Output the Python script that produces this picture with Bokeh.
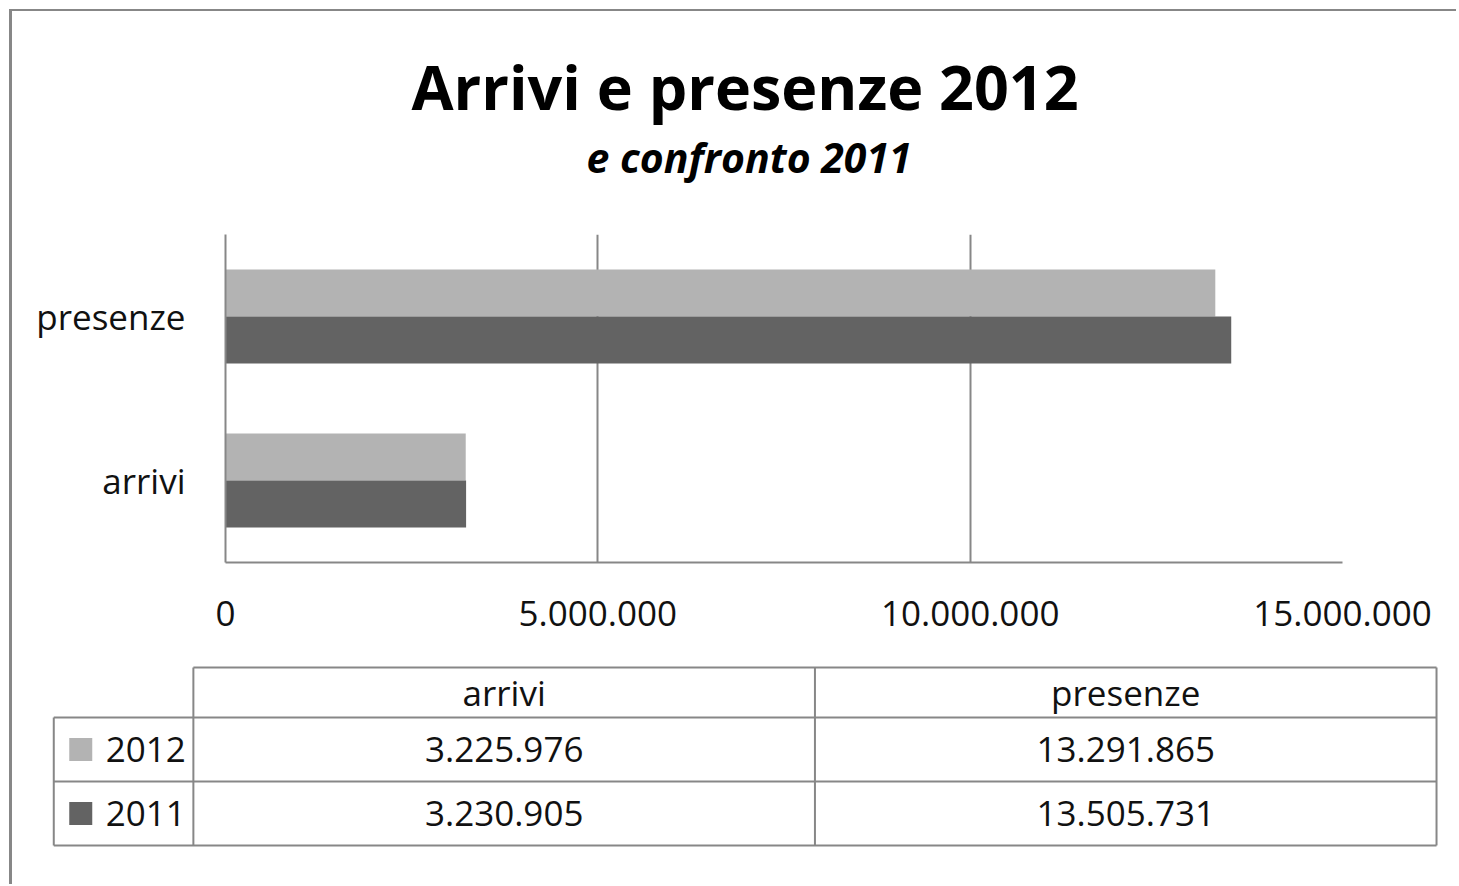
from bokeh.plotting import figure
from bokeh.models import (FactorRange, Range1d, FixedTicker, CustomJSTickFormatter,
                          Title, ColumnDataSource)
from bokeh.transform import dodge
from bokeh.core.properties import value
from bokeh.embed import file_html
from bokeh.resources import INLINE

# ---------------- data ----------------
categories = ["arrivi", "presenze"]
years = ["2012", "2011"]
values_2012 = [3225976, 13291865]
values_2011 = [3230905, 13505731]
x_ticks = [0, 5000000, 10000000, 15000000]
title_text = "Arrivi e presenze 2012"
subtitle_text = "e confronto 2011"

# ---------------- style ----------------
FONT = "Open Sans"
C2012 = "#B3B3B3"
C2011 = "#636363"
LINE = "#878787"
TXT = "#111111"


def fmt(v):
    return f"{v:,}".replace(",", ".")


# ---------------- chart ----------------
src = ColumnDataSource(dict(cat=categories, v2012=values_2012, v2011=values_2011))

p1 = figure(width=1447, height=639, output_backend="svg", toolbar_location=None,
            y_range=FactorRange(*categories), x_range=Range1d(0, 15000000),
            min_border_left=213, min_border_right=117, min_border_top=223,
            min_border_bottom=88, background_fill_color="white",
            border_fill_color="white",
            styles={"margin-left": "9px", "margin-top": "9px",
                    "border-left": f"3px solid {LINE}",
                    "border-top": f"2px solid {LINE}"})
p1.outline_line_color = None

bar_h = 0.2866
p1.hbar(y=dodge("cat", bar_h / 2, range=p1.y_range), right="v2012", left=0,
        height=bar_h, color=C2012, line_color=None, source=src)
p1.hbar(y=dodge("cat", -bar_h / 2, range=p1.y_range), right="v2011", left=0,
        height=bar_h, color=C2011, line_color=None, source=src)

p1.ygrid.grid_line_color = None
p1.xgrid.grid_line_color = LINE
p1.xgrid.grid_line_width = 2
p1.xgrid.ticker = FixedTicker(ticks=x_ticks)

xa = p1.xaxis[0]
xa.ticker = FixedTicker(ticks=x_ticks)
xa.formatter = CustomJSTickFormatter(
    code="return tick.toFixed(0).replace(/\\B(?=(\\d{3})+(?!\\d))/g, '.');")
xa.axis_line_color = LINE
xa.axis_line_width = 2
xa.major_tick_line_color = None
xa.minor_tick_line_color = None
xa.major_label_text_font = FONT
xa.major_label_text_font_size = "35px"
xa.major_label_text_color = TXT
xa.major_label_standoff = 32

ya = p1.yaxis[0]
ya.axis_line_color = LINE
ya.axis_line_width = 2
ya.major_tick_line_color = None
ya.minor_tick_line_color = None
ya.major_label_text_font = FONT
ya.major_label_text_font_size = "35px"
ya.major_label_text_color = TXT
ya.major_label_standoff = 34

p1.add_layout(Title(text=subtitle_text, text_font=FONT, text_font_size="41px",
                    text_font_style="bold italic", align="left", offset=361,
                    standoff=100, text_color="black"), "above")
p1.add_layout(Title(text=title_text, text_font=FONT, text_font_size="61px",
                    text_font_style="bold", align="left", offset=186,
                    standoff=-103, text_color="black"), "above")

# ---------------- data table (below chart) ----------------
LW = 0.2246      # width of legend column, in column units
HH = 0.78        # height of header row, in row units
n_cols = len(categories)
n_rows = len(years)

p2 = figure(width=1440, height=236, output_backend="svg", toolbar_location=None,
            x_range=Range1d(-LW - 0.0664, n_cols + 0.0257),
            y_range=Range1d(n_rows + 0.61, -HH - 0.297),
            min_border=0, background_fill_color="white", border_fill_color="white",
            styles={"margin-left": "9px", "border-left": f"3px solid {LINE}"})
p2.axis.visible = False
p2.grid.visible = False
p2.outline_line_color = None

# grid lines of the table
hx0, hx1, hy0, hy1 = [0], [n_cols], [-HH], [-HH]
for r in range(n_rows + 1):
    hx0.append(-LW); hx1.append(n_cols); hy0.append(r); hy1.append(r)
p2.segment(x0=hx0, x1=hx1, y0=hy0, y1=hy1, line_color=LINE, line_width=2)
vx0, vy0, vy1 = [-LW], [0], [n_rows]
for c in range(n_cols + 1):
    vx0.append(c); vy0.append(-HH); vy1.append(n_rows)
p2.segment(x0=vx0, x1=vx0, y0=vy0, y1=vy1, line_color=LINE, line_width=2)

# header
p2.text(x=[c + 0.5 for c in range(n_cols)], y=[-HH / 2] * n_cols, text=categories,
        text_font=value(FONT), text_font_size="35px", text_color=TXT,
        text_align="center", text_baseline="middle")

# legend column
row_y = [r + 0.5 for r in range(n_rows)]
p2.scatter(x=[-LW + 27 / 622] * n_rows, y=row_y, marker="square", size=23,
           color=[C2012, C2011], line_color=None)
p2.text(x=[-LW + 52 / 622] * n_rows, y=row_y, text=years,
        text_font=value(FONT), text_font_size="35px", text_color=TXT,
        text_align="left", text_baseline="middle")

# values
series = [values_2012, values_2011]
tx, ty, tt = [], [], []
for r, vals in enumerate(series):
    for c, v in enumerate(vals):
        tx.append(c + 0.5); ty.append(r + 0.5); tt.append(fmt(v))
p2.text(x=tx, y=ty, text=tt, text_font=value(FONT), text_font_size="35px",
        text_color=TXT, text_align="center", text_baseline="middle")

open("out.html", "w").write(file_html([p1, p2], INLINE))
